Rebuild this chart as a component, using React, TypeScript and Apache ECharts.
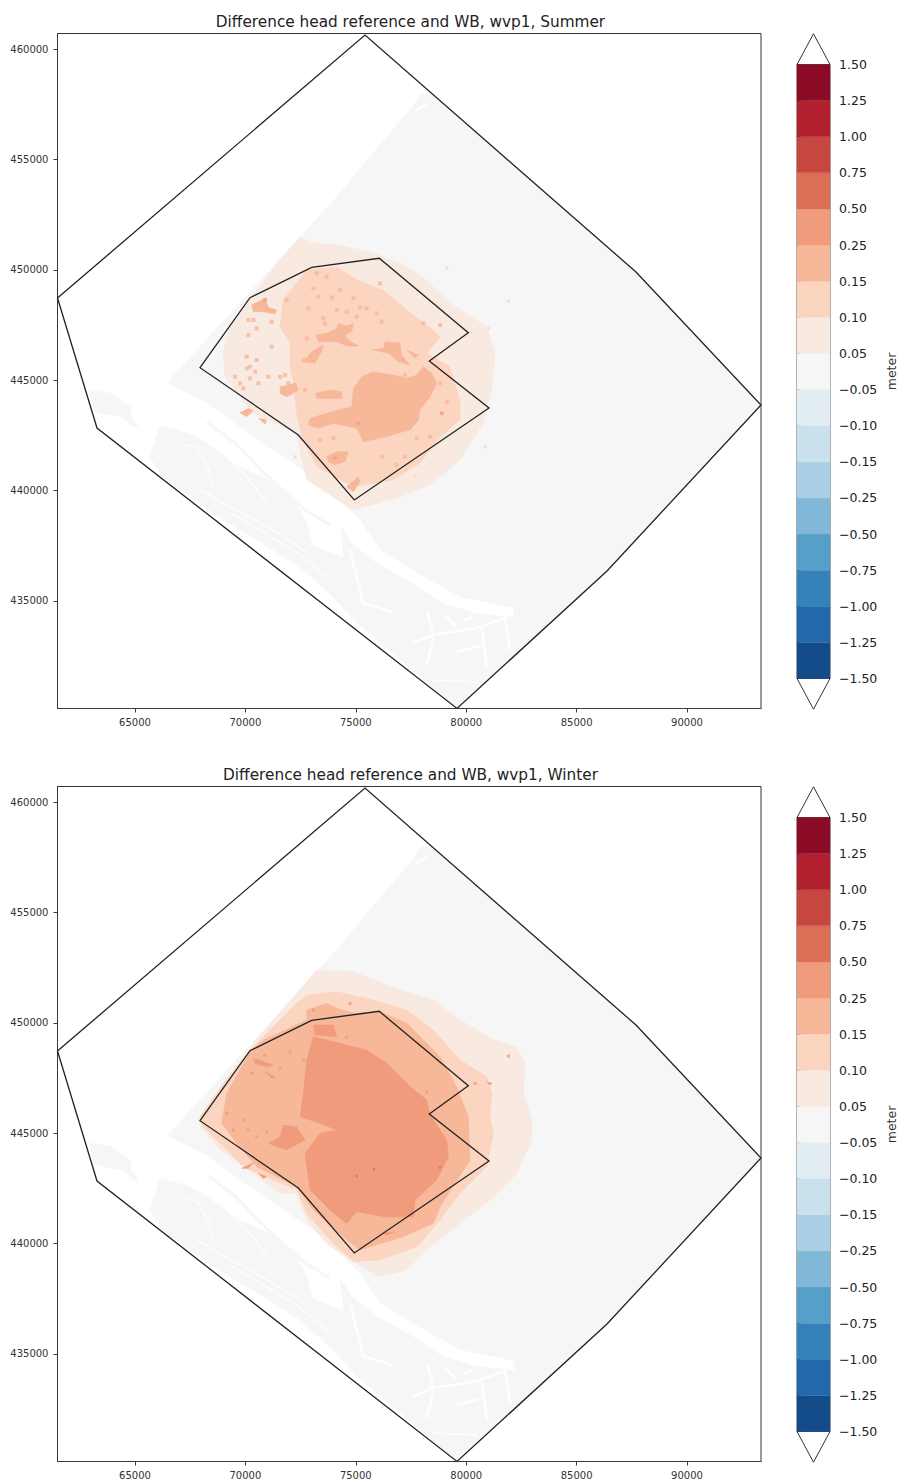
import React, { useEffect, useRef } from "react";
import * as echarts from "echarts";

type Pt = number[];
const xTicks = [65000, 70000, 75000, 80000, 85000, 90000];
const yTicks = [435000, 440000, 445000, 450000, 455000, 460000];
const cbarLabels = ["−1.50","−1.25","−1.00","−0.75","−0.50","−0.25","−0.15","−0.10","−0.05","0.05","0.10","0.15","0.25","0.50","0.75","1.00","1.25","1.50"];
const levelColors = ["#134c88","#2368ac","#3581ba","#559fc9","#81b8d7","#a8cfe3","#c9e0ed","#e2ecf3","#f6f6f6","#f8e9e1","#fcd5c1","#f7b799","#f09b7b","#dd6f56","#c64740","#b2202f","#8b0a26"];
const C_GREY = levelColors[8], C1 = levelColors[9], C2 = levelColors[10], C3 = levelColors[11], C4 = levelColors[12], C5 = levelColors[13];

const outerBoundary: Pt[] = [[61490,448723],[63279,442835],[79583,430131],[86377,436359],[93351,443877],[87690,449900],[75417,460634]];
const innerBoundary: Pt[] = [[67944,445566],[70208,448736],[73003,450113],[76064,450521],[80095,447151],[78329,445870],[81033,443741],[74932,439574],[72396,442518]];

const greyAreas: Pt[][] = [
  [[77908,457917],[78361,457994],[87690,449900],[93351,443877],[86377,436359],[79583,430131],[75054,434003],[73967,435181],[72473,436540],[70525,437763],[68985,438668],[67491,439710],[66223,440616],[65679,441522],[66132,442971],[66449,444873],[74284,453478],[75779,455290],[77455,457237]],
  [[62962,444556],[63867,444420],[64863,443741],[64773,443424],[65136,442880],[64909,442880],[64456,443333],[63415,443514],[63098,443650]],
];
const riverArea: Pt[] = [[66449,444873],[68261,443967],[69755,442880],[71250,441839],[73243,440480],[74058,439710],[75190,438668],[76096,437310],[77772,436268],[79719,435181],[82120,434683],[82165,434275],[80489,434457],[78949,434910],[77591,435815],[75960,436721],[74828,437627],[74284,438442],[74420,436993],[73062,437536],[72790,438533],[72337,439439],[71431,440344],[69755,441069],[68533,441974],[67491,442609],[66132,442971]];
const greyStrip: Pt[] = [[68261,443107],[69529,442156],[70797,440842],[71793,439936],[72699,439121],[73831,438442]];
const wideChannels: Pt[][] = [
  [[74737,437310],[75190,435498],[75326,434910],[76685,434502]],
  [[77591,433098],[78496,433460],[80489,433777],[81848,434275]],
  [[78225,434592],[78451,433687],[78496,433234],[78225,432102]],
  [[79583,432690],[80716,433007]],
  [[80716,433777],[80942,432011]],
  [[81757,434275],[81983,432781]],
  [[79040,434366],[79583,433822]],
  [[79855,434139],[80308,434275]],
  [[77772,457237],[78270,457554]],
];
const thinChannels: Pt[][] = [
  [[67038,442156],[67808,441929],[68352,440933],[68488,440163]],
  [[67808,440163],[68985,439439],[70208,438804],[71431,438080],[72790,437219]],
  [[69303,439031],[70797,438125],[72337,437219],[73831,435951]],
  [[68985,441703],[70072,440616],[70978,439439]],
  [[78496,431422],[80489,431331]],
];

const summerL1: Pt[][] = [
  [[71431,450308],[72473,451486],[73062,451214],[74284,451123],[75779,450761],[77002,450308],[78043,449674],[79266,448496],[80942,447409],[81304,446232],[81168,444692],[80761,443062],[79719,441386],[78496,440344],[77002,439710],[74873,439121],[73696,439891],[72790,440480],[72473,441703],[72337,442609],[70344,443515],[69620,444420],[69076,445145],[68985,446232],[69303,447409],[70208,448632],[70435,448949]],
];
const summerL2: Pt[][] = [
  [[71703,448632],[72790,449991],[74149,450127],[75054,449538],[76232,449085],[77319,448179],[78496,447274],[78813,446957],[78225,446232],[79266,445598],[79719,444103],[79719,443197],[78813,442427],[77908,441250],[76685,440480],[74873,440163],[73243,441069],[72609,442292],[72337,443333],[72156,445009],[72020,445598],[72020,446685],[71567,447409]],
];
const summerL3: Pt[][] = [
  [[74891,444630],[75269,445158],[75797,445385],[76703,445234],[77307,445082],[77760,445234],[78062,445611],[78440,445309],[78666,444856],[78364,444252],[77911,443648],[77836,443195],[77458,442742],[76854,442591],[76401,442440],[75344,442213],[75042,442818],[73985,443044],[73306,442818],[72852,442968],[72928,443271],[73910,443573],[74816,443799]],
  [[73200,447046],[73683,447121],[74136,447348],[74212,447574],[74589,447453],[74891,447574],[74816,447197],[74514,447046],[74665,446819],[75117,446547],[74589,446547],[74136,446744],[73306,446744]],
  [[72626,445838],[73004,446291],[73532,446593],[73457,446291],[73155,445762]],
  [[75722,446366],[76255,446442],[76326,446744],[76997,446698],[77081,446140],[77458,445686],[76930,445838],[76476,446215]],
  [[73155,444403],[73834,444554],[74363,444479],[74363,444176],[73683,444176],[73230,444176]],
  [[73683,441534],[74136,441761],[74665,441761],[74514,441308],[74061,441157],[73758,441308]],
  [[71569,444705],[72248,444856],[72399,444554],[71871,444252],[71569,444403]],
  [[70286,448405],[70889,448707],[71041,448299],[71418,448178],[71342,447997],[70814,448103],[70361,448103]],
  [[74589,440175],[75117,440628],[75193,440402],[74891,439949]],
  [[69757,443527],[70135,443724],[70361,443618],[70059,443346]],
  [[70587,443271],[70965,443195],[70889,443014]],
  [[77307,446366],[77836,446140],[77685,445988]],
];
const summerDots2: Pt[] = [[81007,447347],[81913,448586],[79119,450066],[77684,440628],[80855,441987],[72249,441534],[70814,443195],[69908,443497]];
const summerDots3: Pt[] = [[70889,448631],[70361,447725],[70135,447725],[71192,447650],[70059,446064],[70059,445536],[70210,445082],[69530,445158],[71795,445234],[72248,444781],[71041,445158],[69908,444630],[73079,449160],[73306,448782],[73910,448752],[72852,448253],[74136,448178],[74589,448102],[75193,448299],[75948,448027],[76175,447650],[73532,447801],[73230,449839],[73683,449688],[76099,449386],[72777,446895],[72626,445913],[78817,447499],[78062,447574],[77231,445234],[78893,443497],[79119,444027],[76175,441534],[77231,441534],[76854,441157],[73381,442289],[73985,442365],[75117,443044],[75872,443346],[78364,442440],[77760,442365],[71871,448631],[78817,444856],[70210,445611],[70437,445385],[70587,444856],[69757,444856],[71946,444856],[71569,445158],[72022,444403],[71720,444554],[72702,444554],[70512,445913],[70135,447046],[70512,447348],[71192,446517],[73607,447574],[75042,447876],[75495,448253],[74287,449084],[74891,448707]];
const summerDots4: Pt[] = [[70889,448631],[74061,441459],[78893,443497],[75117,443044]];

const winterL1: Pt[][] = [
  [[67870,445596],[70361,449069],[72324,451334],[73230,452391],[74891,452316],[77005,451485],[78515,451032],[79723,450126],[81233,449220],[82290,448918],[82667,448163],[82592,446804],[82970,445596],[82970,444690],[82290,443180],[81082,441972],[79723,440915],[78515,440009],[77307,438801],[76099,438499],[74891,439179],[73683,440009],[72777,441066],[72324,442274],[71569,442274],[70361,443180],[68851,444237],[67945,445294]],
];
const winterL2: Pt[][] = [
  [[70210,448767],[72324,450881],[72777,451259],[74136,451410],[75797,451032],[77307,450579],[78515,449673],[79723,448314],[80931,447559],[81158,446804],[81082,445596],[81233,444992],[80931,443482],[79723,442274],[78817,441066],[77760,439858],[76099,439254],[74891,439179],[73834,440160],[72777,441368],[72324,442425],[71267,442878],[69908,443482],[68851,444539],[68096,445294],[67945,445747],[69002,447257]],
];
const winterL3: Pt[][] = [
  [[70210,448691],[70814,449220],[72777,450126],[72777,450579],[73683,450881],[74136,450655],[74891,450428],[76099,450504],[77307,449975],[78817,448465],[79572,447106],[80101,445747],[80176,443784],[78817,441670],[78515,440915],[77156,440311],[75193,439707],[74589,440160],[73079,441519],[72324,442576],[70512,443482],[69606,444539],[68927,445445],[69153,446804]],
];
const winterL4: Pt[][] = [
  [[73079,449371],[74287,449069],[75495,448767],[76401,448163],[77307,447257],[78213,446502],[78364,445823],[79119,444690],[79195,443935],[78666,442878],[77684,441972],[77609,441217],[76250,441217],[75042,441444],[74589,440915],[73834,441519],[72928,442425],[72702,444086],[73381,444992],[74136,445143],[73381,445445],[72475,445747],[72626,446804],[72777,448314]],
  [[73079,449900],[73985,449900],[74136,449371],[73154,449446]],
  [[71720,445369],[72324,445294],[72702,444690],[71871,444237],[71041,444539],[71569,444841]],
  [[69833,443407],[70361,443663],[70135,443407]],
  [[70361,448389],[71267,448088],[70965,448012],[70437,448163]],
  [[70889,447785],[71342,447559],[71192,447484]],
  [[70587,443180],[70965,443029],[70814,442953]],
  [[80931,447332],[81158,447257],[81082,447181]],
  [[76175,440462],[76777,440538],[76401,440387]],
];
const winterDots4: Pt[] = [[70285,447710],[70889,448541],[72022,448691],[72626,448314],[71569,447937],[69153,445898],[69455,445143],[69908,445596],[70135,445143],[70512,444841],[70965,445067],[73079,450579],[74740,450881],[74589,449341],[78213,446880],[80402,447257],[81913,448495]];
const winterDots5: Pt[] = [[75042,443059],[75827,443361],[78817,443451]];

const cbarTop: Pt[] = [[0,17],[0.5,17.85],[1,17]];
const cbarBottom: Pt[] = [[0,0],[0.5,-0.85],[1,0]];

const FONT = "DejaVu Sans";
const AX_COLOR = "#3a3a3a";

function polySeries(gi: number, polys: Pt[][], fill: string, z: number): any {
  return {
    type: "custom", xAxisIndex: gi, yAxisIndex: gi, z, silent: true, clip: true,
    data: polys.map((_, i) => [i]),
    renderItem: (_p: any, api: any) => ({
      type: "polygon",
      shape: { points: polys[api.value(0)].map((q) => api.coord(q)) },
      style: { fill, stroke: fill, lineWidth: 0.5 },
    }),
  };
}
function lineSeries(gi: number, lines: Pt[][], stroke: string, width: number, z: number, closed = false, clip = true, opacity = 1): any {
  return {
    type: "custom", xAxisIndex: gi, yAxisIndex: gi, z, silent: true, clip,
    data: lines.map((_, i) => [i]),
    renderItem: (_p: any, api: any) => ({
      type: closed ? "polygon" : "polyline",
      shape: { points: lines[api.value(0)].map((q) => api.coord(q)) },
      style: { fill: "none", stroke, lineWidth: width, lineJoin: "miter", opacity },
    }),
  };
}
function dotSeries(gi: number, pts: Pt[], color: string, size: number, z: number): any {
  return {
    type: "scatter", xAxisIndex: gi, yAxisIndex: gi, z, silent: true,
    symbol: "rect", symbolSize: size, data: pts, itemStyle: { color },
  };
}
function mapPanel(gi: number, layers: any[]): any[] {
  return [
    polySeries(gi, greyAreas, C_GREY, 2),
    polySeries(gi, [riverArea], "#ffffff", 3),
    lineSeries(gi, [greyStrip], C_GREY, 3, 4),
    lineSeries(gi, wideChannels, "#ffffff", 2.6, 4, false, true, 0.85),
    lineSeries(gi, thinChannels, "#ffffff", 1.5, 4, false, true, 0.8),
    ...layers,
    lineSeries(gi, [outerBoundary, innerBoundary], "#222222", 1.3, 20, true, false),
  ];
}
function cbarPanel(gi: number): any[] {
  return [
    {
      type: "custom", xAxisIndex: gi, yAxisIndex: gi, z: 2, silent: true, clip: false,
      data: levelColors.map((_, i) => [i]),
      renderItem: (_p: any, api: any) => {
        const i = api.value(0);
        const a = api.coord([0, i + 1]);
        const b = api.coord([1, i]);
        return {
          type: "rect",
          shape: { x: a[0], y: a[1], width: b[0] - a[0], height: b[1] - a[1] },
          style: { fill: levelColors[i], stroke: levelColors[i], lineWidth: 0.3 },
        };
      },
    },
    lineSeries(gi, [cbarTop, cbarBottom], "#333333", 1, 3, false, false),
  ];
}

const MAP_L = 57.5, MAP_W = 703.5, MAP_H = 675, MAP_TOPS = [33.5, 786.5];
const CB_L = 797, CB_W = 35, CB_H = 614, CB_TOPS = [64.5, 817.5];

function App() {
  const ref = useRef<HTMLDivElement>(null);
  useEffect(() => {
    const chart = echarts.init(ref.current!, undefined, { renderer: "svg" });
    const grids: any[] = [
      ...MAP_TOPS.map((top) => ({ left: MAP_L, top, width: MAP_W, height: MAP_H, show: true, borderColor: "#333", borderWidth: 1, backgroundColor: "#fff" })),
      ...CB_TOPS.map((top) => ({ left: CB_L, top, width: CB_W, height: CB_H, show: true, borderColor: "#555", borderWidth: 1, backgroundColor: "transparent" })),
    ];
    const mapX = (gridIndex: number) => ({
      type: "value", gridIndex, min: 61490, max: 93351, splitLine: { show: false },
      axisLine: { show: true, lineStyle: { color: AX_COLOR } },
      axisTick: { show: true, length: 4, customValues: xTicks, lineStyle: { color: AX_COLOR } },
      axisLabel: { customValues: xTicks, fontSize: 10, fontFamily: FONT, color: "#333", margin: 9, formatter: (v: number) => String(v) },
    });
    const mapY = (gridIndex: number) => ({
      type: "value", gridIndex, min: 430131, max: 460702, splitLine: { show: false },
      axisLine: { show: true, lineStyle: { color: AX_COLOR } },
      axisTick: { show: true, length: 4, customValues: yTicks, lineStyle: { color: AX_COLOR } },
      axisLabel: { customValues: yTicks, fontSize: 10, fontFamily: FONT, color: "#333", margin: 9, formatter: (v: number) => String(v) },
    });
    const cbX = (gridIndex: number) => ({
      type: "value", gridIndex, min: 0, max: 1, show: false, splitLine: { show: false },
    });
    const cbY = (gridIndex: number) => ({
      type: "value", gridIndex, min: 0, max: 17, interval: 1, position: "right", splitLine: { show: false },
      name: "meter", nameLocation: "middle", nameGap: 55, nameRotate: 90,
      nameTextStyle: { fontSize: 12.5, fontFamily: FONT, color: "#333" },
      axisLine: { show: true, lineStyle: { color: "#555" } },
      axisTick: { show: true, length: 4, lineStyle: { color: "#333" } },
      axisLabel: { fontSize: 12.5, fontFamily: FONT, color: "#222", margin: 9, formatter: (v: number) => cbarLabels[v] ?? "" },
    });
    chart.setOption({
      animation: false,
      backgroundColor: "#ffffff",
      title: [
        { text: "Difference head reference and WB, wvp1, Summer", left: 405.5, top: 9, textAlign: "center", textStyle: { fontSize: 15.3, fontWeight: "normal", fontFamily: FONT, color: "#222" } },
        { text: "Difference head reference and WB, wvp1, Winter", left: 405.5, top: 762, textAlign: "center", textStyle: { fontSize: 15.3, fontWeight: "normal", fontFamily: FONT, color: "#222" } },
      ],
      grid: grids,
      xAxis: [mapX(0), mapX(1), cbX(2), cbX(3)],
      yAxis: [mapY(0), mapY(1), cbY(2), cbY(3)],
      series: [
        ...mapPanel(0, [
          polySeries(0, summerL1, C1, 6),
          polySeries(0, summerL2, C2, 7),
          dotSeries(0, summerDots2, C2, 3, 7),
          polySeries(0, summerL3, C3, 8),
          dotSeries(0, summerDots3, C3, 4, 8),
          dotSeries(0, summerDots4, C4, 3, 9),
        ]),
        ...mapPanel(1, [
          polySeries(1, winterL1, C1, 6),
          polySeries(1, winterL2, C2, 7),
          polySeries(1, winterL3, C3, 8),
          polySeries(1, winterL4, C4, 9),
          dotSeries(1, winterDots4, C4, 3, 9),
          dotSeries(1, winterDots5, C5, 2.5, 10),
        ]),
        ...cbarPanel(2),
        ...cbarPanel(3),
      ],
    });
    return () => chart.dispose();
  }, []);
  return <div ref={ref} style={{ position: "absolute", left: 0, top: 0, width: 899, height: 1481 }} />;
}

export default App;
